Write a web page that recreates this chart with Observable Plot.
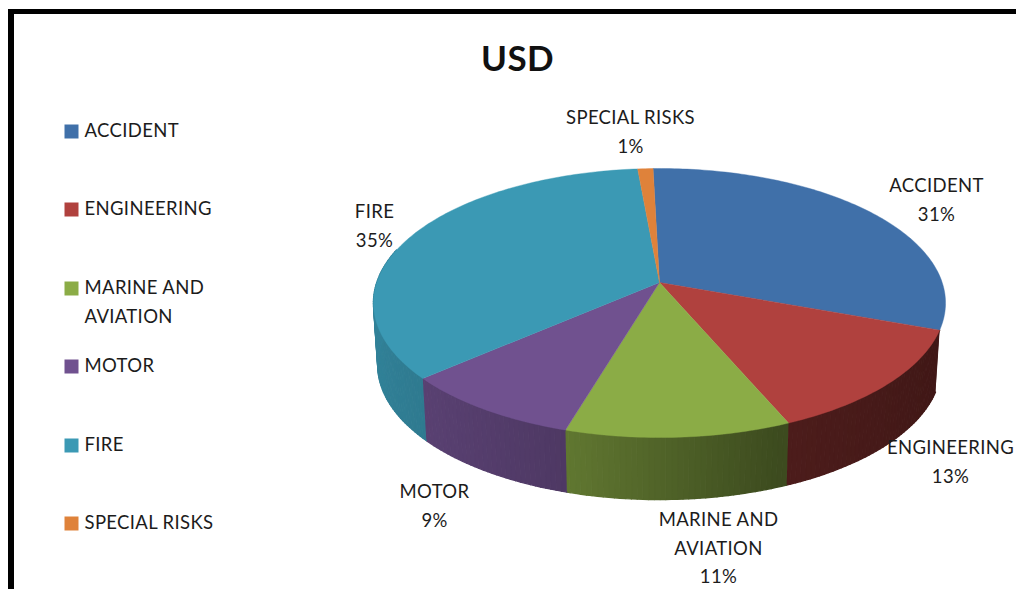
<!DOCTYPE html>
<html>
<head>
<meta charset="utf-8">
<script src="https://cdn.jsdelivr.net/npm/d3@7"></script>
<script src="https://cdn.jsdelivr.net/npm/@observablehq/plot@0.6"></script>
<style>
  html, body { margin: 0; background: #fff; }
  #page { position: relative; width: 1016px; height: 589px; overflow: hidden; }
  #page svg { position: absolute; left: 0; top: 0; }
  #page svg text { letter-spacing: 0.35px; }
  /* The picture frame is only closed on its top and left sides. */
  #frame { position: absolute; left: 8px; top: 9px; right: -20px; bottom: -20px;
           border-top: 5px solid #000; border-left: 6px solid #000; }
</style>
</head>
<body>
<div id="page"><div id="frame"></div></div>
<script>
const categories = ["ACCIDENT", "ENGINEERING", "MARINE AND AVIATION", "MOTOR", "FIRE", "SPECIAL RISKS"];
const shares = [31, 13, 11, 9, 35, 1];
const colors = ["#4070a9", "#b0413e", "#8bac46", "#70518f", "#3b99b4", "#df823a"];
const legendLines = [["ACCIDENT"], ["ENGINEERING"], ["MARINE AND", "AVIATION"], ["MOTOR"], ["FIRE"], ["SPECIAL RISKS"]];
const sliceLines = [["ACCIDENT"], ["ENGINEERING"], ["MARINE AND", "AVIATION"], ["MOTOR"], ["FIRE"], ["SPECIAL RISKS"]];

// Pixel layout: centre of each data label's first line, and each legend row.
const labelAt = [[936, 186], [950, 448], [718, 520], [434, 492], [374, 212], [630, 118]];
const labelLeading = 28.5;
const legendRowY = [131, 209, 288, 366, 445, 523];
const legendLeading = 29;

// Perspective pie: one data unit on the x scale is the disc radius.
const W = 1016, H = 589;
const apex = [659, 282], radiusX = 282.7, radiusY = 131.4;
const perspective = 0.1525, firstSlice = -1.5, thickness = 62 / radiusY, taper = 0.985;
const rad = d => d * Math.PI / 180;

function project(deg) {
  const u = Math.sin(rad(deg)), v = Math.cos(rad(deg)), w = 1 + perspective * v;
  return {x: u / w, y: v / w, u};
}

const shade = d3.scaleLinear().domain([-1, -0.3, 0.35, 1]).range([0.85, 0.7, 0.44, 0.36]).clamp(true);
const darken = (c, k) => { const r = d3.rgb(c); return d3.rgb(r.r * k, r.g * k, r.b * k).formatHex(); };

let running = firstSlice;
const arcs = shares.map((s, i) => {
  const a0 = running, a1 = (running += s * 3.6);
  return {i, a0, a1};
});

// Top faces: apex plus the rim sampled along the arc.
const topFaces = arcs.flatMap(({i, a0, a1}) => {
  const n = Math.max(2, Math.ceil(a1 - a0));
  const rim = d3.range(n + 1).map(k => project(a0 + (a1 - a0) * k / n));
  return [{x: 0, y: 0}, ...rim, {x: 0, y: 0}].map(p => ({...p, id: `top${i}`, fill: colors[i]}));
});

// Side wall: thin quads along the front of the rim, shaded by horizontal position.
// The first slice's edge faces away from the viewer, so it has no wall.
const wall = arcs.flatMap(({i, a0, a1}) => {
  const out = [];
  if (i === 0) return out;
  for (let d = a0; d < a1; d += 1) {
    const e = Math.min(d + 1, a1), p = project(d), q = project(e);
    if (Math.cos(rad((d + e) / 2)) > 0.25) continue;
    const fill = darken(colors[i], shade((p.u + q.u) / 2));
    const id = `wall${i}-${d}`;
    out.push(
      {x: p.x, y: p.y, id, fill},
      {x: q.x, y: q.y, id, fill},
      {x: q.x * taper, y: q.y - thickness, id, fill},
      {x: p.x * taper, y: p.y - thickness, id, fill}
    );
  }
  return out;
});

const textStyle = {fontFamily: "Lato, 'Open Sans', sans-serif", fill: "#1c1c1c"};

const labelMarks = arcs.flatMap(({i}) => {
  const lines = [...sliceLines[i], `${shares[i]}%`];
  return lines.map((t, k) => Plot.text([t], {
    ...textStyle, frameAnchor: "top-left", textAnchor: "middle", lineAnchor: "middle",
    dx: labelAt[i][0], dy: labelAt[i][1] + k * labelLeading, fontSize: 18.5
  }));
});

const legendMarks = arcs.flatMap(({i}) => [
  Plot.dot([categories[i]], {
    frameAnchor: "top-left", dx: 71, dy: legendRowY[i], symbol: "square", r: 7.9,
    fill: colors[i], stroke: "none"
  }),
  ...legendLines[i].map((t, k) => Plot.text([t], {
    ...textStyle, frameAnchor: "top-left", textAnchor: "start", lineAnchor: "middle",
    dx: 84, dy: legendRowY[i] + k * legendLeading, fontSize: 18.5
  }))
]);

const chart = Plot.plot({
  width: W, height: H, margin: 0,
  x: {axis: null, domain: [-apex[0] / radiusX, (W - apex[0]) / radiusX], range: [0, W]},
  y: {axis: null, domain: [apex[1] / radiusY, (apex[1] - H) / radiusY], range: [0, H]},
  style: {background: "transparent"},
  marks: [
    Plot.line(wall, {x: "x", y: "y", z: "id", fill: "fill", stroke: "fill", strokeWidth: 1.4}),
    Plot.line(topFaces, {x: "x", y: "y", z: "id", fill: "fill", stroke: "fill", strokeWidth: 0.4}),
    Plot.text(["USD"], {
      fontFamily: "Lato, 'Open Sans', sans-serif", fontWeight: "bold", fontSize: 35, fill: "#111",
      frameAnchor: "top-left", dx: 517, dy: 59, textAnchor: "middle", lineAnchor: "middle"
    }),
    ...labelMarks,
    ...legendMarks
  ]
});
document.getElementById("page").appendChild(chart);
</script>
</body>
</html>
